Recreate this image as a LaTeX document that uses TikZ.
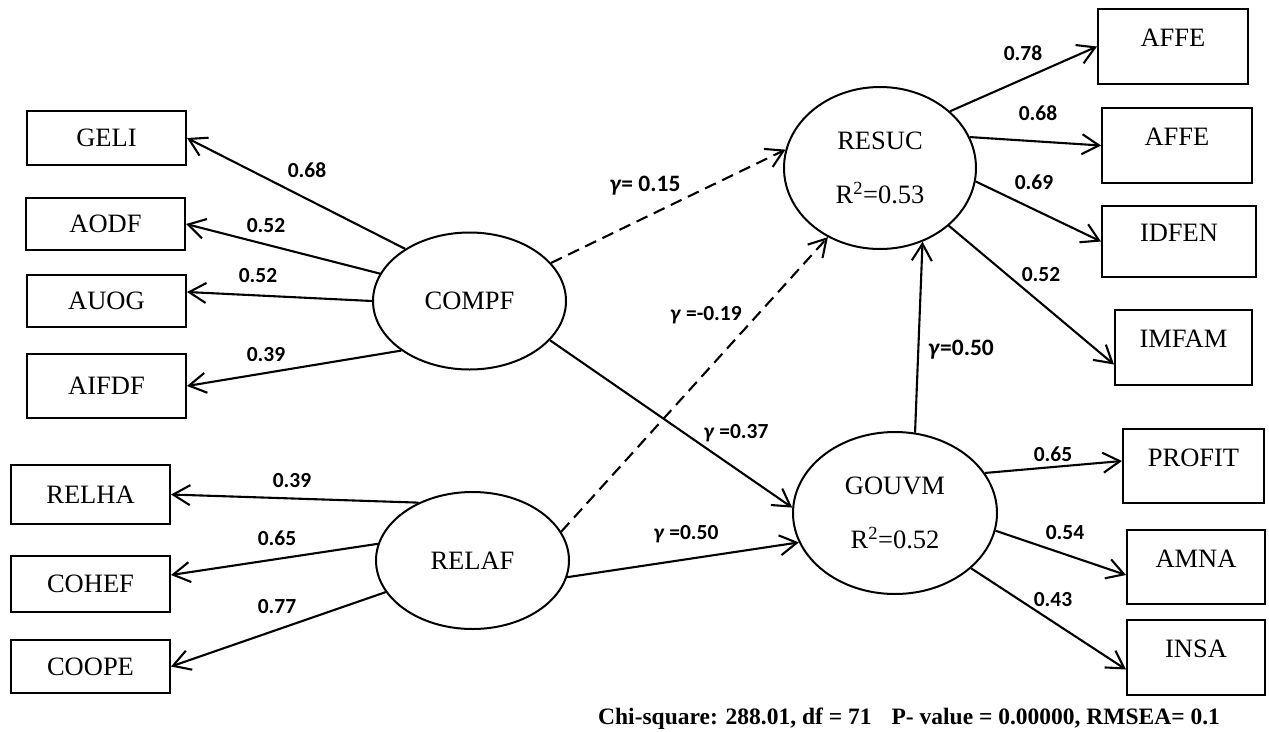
\documentclass[tikz,border=0pt]{standalone}
\usepackage{fontspec}
\setmainfont{Liberation Serif}
\newfontfamily\labfont{Carlito}
\usetikzlibrary{arrows.meta,shapes.geometric}
\begin{document}
\begin{tikzpicture}[x=1pt,y=-1pt,
  obs/.style={draw, rectangle, line width=2pt, inner sep=0pt,
    font=\fontsize{26.5}{32}\selectfont},
  rbox/.style={obs, text height=#1, text depth=#1},
  lat/.style={draw, ellipse, line width=2pt, inner sep=0pt, align=center,
    font=\fontsize{26.5}{32}\selectfont},
  coef/.style={font=\labfont\bfseries\fontsize{21.5}{24}\selectfont, inner sep=0pt},
  bigcoef/.style={font=\labfont\bfseries\fontsize{23.5}{26}\selectfont, inner sep=0pt},
  link/.style={line width=2.1pt, -{Straight Barb[length=17pt,width=20pt]}},
  dlink/.style={link, dash pattern=on 12pt off 7pt},
]
\useasboundingbox (0,0) rectangle (1269,731);

% indicators of COMPF
\node[obs, minimum width=159pt, minimum height=54pt] (geli)  at (106.5,138) {GELI};
\node[obs, minimum width=159pt, minimum height=52pt] (aodf)  at (105.5,224) {AODF};
\node[obs, minimum width=159pt, minimum height=52pt] (auog)  at (106.5,301) {AUOG};
\node[obs, minimum width=159pt, minimum height=64pt] (aifdf) at (106.5,386) {AIFDF};

% indicators of RELAF
\node[obs, minimum width=159pt, minimum height=59pt] (relha) at (90.5,494.5) {RELHA};
\node[obs, minimum width=159pt, minimum height=56pt] (cohef) at (90.5,584) {COHEF};
\node[obs, minimum width=159pt, minimum height=53pt] (coope) at (90.5,666.5) {COOPE};

% indicators of RESUC
\node[rbox=37.5pt, minimum width=150pt] (affea) at (1173,46.5) {AFFE};
\node[rbox=37.5pt, minimum width=150pt] (affeb) at (1177,145.5) {AFFE};
\node[rbox=35.5pt, minimum width=154pt] (idfen) at (1179,241.5) {IDFEN};
\node[rbox=37.5pt, minimum width=137pt] (imfam) at (1183.5,347.5) {IMFAM};

% indicators of GOUVM
\node[rbox=37pt, minimum width=141pt] (profit) at (1193.5,466) {PROFIT};
\node[rbox=37pt, minimum width=138pt] (amna)   at (1196,567) {AMNA};
\node[rbox=37.5pt, minimum width=138pt] (insa) at (1196,657.5) {INSA};

% latent variables
\node[lat, minimum width=193pt, minimum height=137pt] (compf) at (469.5,301) {COMPF};
\node[lat, minimum width=193pt, minimum height=137pt] (relaf) at (472.5,560.5) {RELAF};
\node[lat, minimum width=192pt, minimum height=162pt] (resuc) at (880,168)
  {RESUC\\[22pt]R\textsuperscript{2}=0.53};
\node[lat, minimum width=204pt, minimum height=162pt] (gouvm) at (895,513)
  {GOUVM\\[22pt]R\textsuperscript{2}=0.52};

% loadings
\draw[link] (compf.141.9) -- (geli.east);
\draw[link] (compf.163.2) -- (aodf.east);
\draw[link] (compf.180) -- ([yshift=9pt]auog.east);
\draw[link] (compf.216.5) -- (aifdf.east);
\draw[link] (relaf.133.5) -- (relha.east);
\draw[link] (relaf.170.7) -- ([yshift=9pt]cohef.east);
\draw[link] (relaf.200) -- (coope.east);
\draw[link] (resuc.39.9) -- (affea.west);
\draw[link] (resuc.19) -- (affeb.west);
\draw[link] (resuc.352.9) -- (idfen.west);
\draw[link] (resuc.320.6) -- ([yshift=-17pt]imfam.west);
\draw[link] (gouvm.24.3) -- ([yshift=5pt]profit.west);
\draw[link] (gouvm.350) -- ([yshift=-8pt]amna.west);
\draw[link] (gouvm.324.5) -- ([yshift=-12pt]insa.west);

% structural paths
\draw[dlink] (compf.25.6) -- (resuc.169.4);
\draw[dlink] (relaf.18.3) -- (resuc.233.3);
\draw[link] (compf.334.4) -- (gouvm.177.1);
\draw[link] (relaf.350.9) -- (gouvm.197);
\draw[link] (gouvm.76.3) -- (resuc.300.4);

% coefficients
\node[coef] (l1) at (307,170) {0.68};
\node[coef] (l2) at (266,226) {0.52};
\node[coef] (l3) at (258,276) {0.52};
\node[coef] (l4) at (266,355) {0.39};
\node[coef] (l5) at (292,481) {0.39};
\node[coef] (l6) at (277,538) {0.65};
\node[coef] (l7) at (277,607) {0.77};
\node[coef] (r1) at (1023,53) {0.78};
\node[coef] (r2) at (1038,113) {0.68};
\node[coef] (r3) at (1034,182) {0.69};
\node[coef] (r4) at (1041,275) {0.52};
\node[coef] (r5) at (1053,454) {0.65};
\node[coef] (r6) at (1065,533) {0.54};
\node[coef] (r7) at (1053,600) {0.43};
\node[bigcoef] (g1) at (645,186) {\textit{γ}= 0.15};
\node[coef] (g2) at (706,315) {\textit{γ} =-0.19};
\node[coef] (g3) at (736,433) {\textit{γ} =0.37};
\node[coef] (g4) at (686,534) {\textit{γ} =0.50};
\node[bigcoef] (g5) at (961,350) {\textit{γ}=0.50};

% fit statistics
\node[font=\bfseries\fontsize{23.5}{28}\selectfont, anchor=base west, inner sep=0pt]
  (fitstat) at (598,724) {Chi-square: 288.01, df = 71\hspace{20pt}P- value = 0.00000, RMSEA= 0.1};
\end{tikzpicture}
\end{document}
